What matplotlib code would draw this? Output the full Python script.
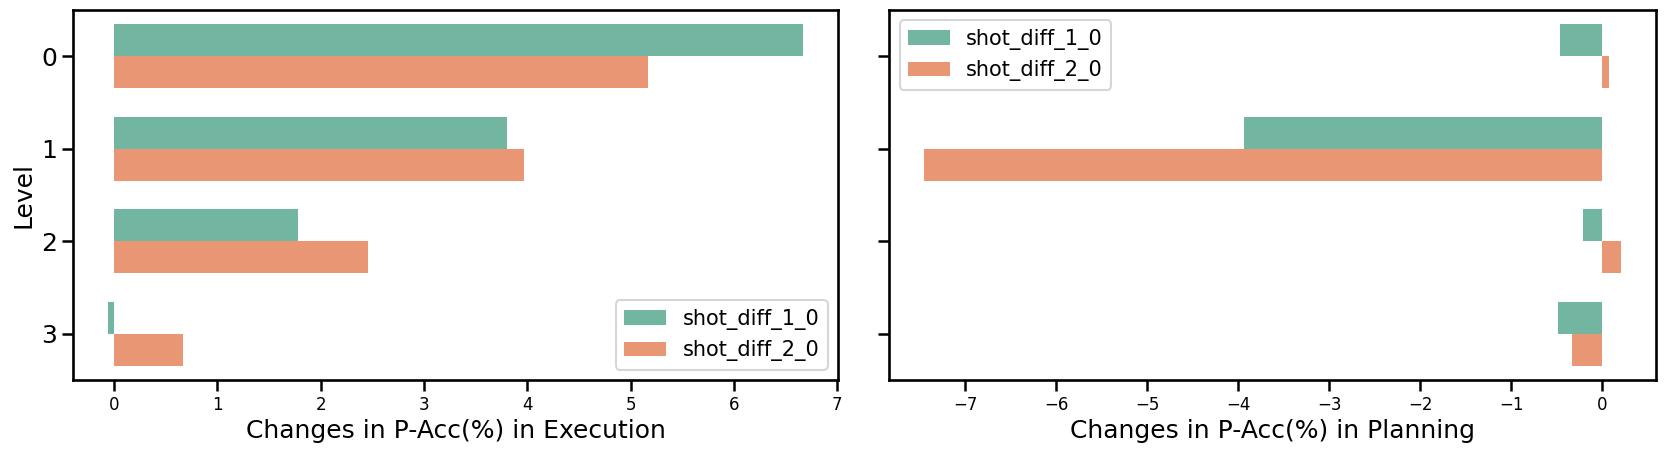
import matplotlib
matplotlib.use("Agg")
import matplotlib.pyplot as plt
import seaborn as sns
import pandas as pd


# Values
levels = [0, 1, 2, 3]
series_names = ["shot_diff_1_0", "shot_diff_2_0"]
exec_diff_1 = [6.67, 3.80, 1.78, -0.06]
exec_diff_2 = [5.17, 3.97, 2.46, 0.67]
plan_diff_1 = [-0.46, -3.94, -0.21, -0.49]
plan_diff_2 = [0.08, -7.45, 0.21, -0.33]


def to_long(d1, d2):
    rows = []
    for lv, a, b in zip(levels, d1, d2):
        rows.append({"Level": lv, "Shot": series_names[0], "Value": a})
        rows.append({"Level": lv, "Shot": series_names[1], "Value": b})
    return pd.DataFrame(rows)


sns.set_theme(style="ticks", context="talk")
plt.rcParams['font.family'] = ['DejaVu Sans']
for key in ['axes.edgecolor', 'text.color', 'axes.labelcolor', 'xtick.color', 'ytick.color']:
    plt.rcParams[key] = 'black'

fig = plt.figure(figsize=(16.65, 4.55), dpi=100)
ax1 = fig.add_axes([0.0438, 0.165, 0.4595, 0.813])
ax2 = fig.add_axes([0.534, 0.165, 0.4607, 0.813], sharey=ax1)

panels = [
    (ax1, to_long(exec_diff_1, exec_diff_2), "Changes in P-Acc(%) in Execution", "lower right"),
    (ax2, to_long(plan_diff_1, plan_diff_2), "Changes in P-Acc(%) in Planning", "upper left"),
]

for ax, df, xlabel, loc in panels:
    sns.barplot(data=df, x="Value", y="Level", hue="Shot", orient="h",
                palette="Set2", width=0.69, ax=ax, errorbar=None, linewidth=0)
    ax.set_xlabel(xlabel, fontsize=18)
    ax.tick_params(axis="x", labelsize=12, length=8, width=1.8)
    ax.tick_params(axis="y", labelsize=18, length=8, width=1.8)
    for s in ax.spines.values():
        s.set_linewidth(1.9)
    ax.legend(loc=loc, fontsize=15, title=None)

ax1.set_ylabel("Level", fontsize=18)
ax2.set_ylabel("")
ax2.tick_params(axis="y", labelleft=False)

fig.savefig("out.png", dpi=100)
